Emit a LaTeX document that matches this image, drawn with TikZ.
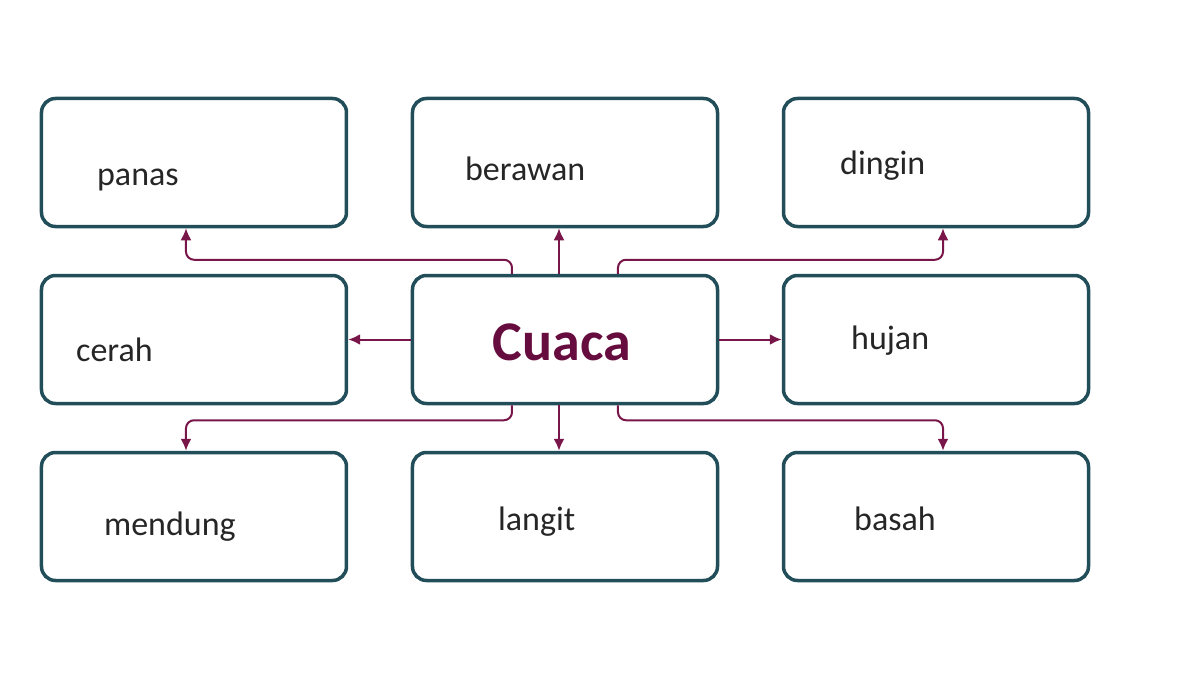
\documentclass[tikz,border=0pt]{standalone}
\usepackage{fontspec}
\setmainfont{Carlito}
\usepackage{tikz}
\usetikzlibrary{positioning, arrows.meta}
\definecolor{boxline}{RGB}{34,78,90}
\definecolor{linkcol}{RGB}{120,22,74}
\definecolor{titlecol}{RGB}{102,12,62}
\tikzstyle{topic} = [rectangle, rounded corners=7pt, minimum width=152.5pt, minimum height=64pt, draw=boxline, line width=1.75pt, fill=white]
\tikzstyle{word} = [anchor=base west, inner sep=0pt, font=\fontsize{17}{20}\selectfont, text=black!85]
\tikzstyle{arrow} = [line width=1pt, draw=linkcol, -{Latex[length=6pt,width=5.5pt]}, linkcol]

\begin{document}
\begin{tikzpicture}[node distance=88.5pt and 185.5pt, on grid]
	\useasboundingbox (-282.5pt,-167.75pt) rectangle (317.5pt,169.75pt);
	\node (cuaca) [topic] {};
	\node (panas) [topic, above left=of cuaca] {};
	\node (berawan) [topic, above=of cuaca] {};
	\node (dingin) [topic, above right=of cuaca] {};
	\node (cerah) [topic, left=of cuaca] {};
	\node (hujan) [topic, right=of cuaca] {};
	\node (mendung) [topic, below left=of cuaca] {};
	\node (langit) [topic, below=of cuaca] {};
	\node (basah) [topic, below right=of cuaca] {};
	
	\node (tcuaca) [anchor=base, inner sep=0pt, font=\fontsize{28}{32}\selectfont\bfseries, text=titlecol] at ([shift={(-1.5pt,-10.25pt)}]cuaca.center) {Cuaca};
	\node (tpanas) [word] at ([shift={(28.5pt,-11.25pt)}]panas.west) {panas};
	\node (tberawan) [word] at ([shift={(27pt,-9.25pt)}]berawan.west) {berawan};
	\node (tdingin) [word] at ([shift={(29pt,-6.25pt)}]dingin.west) {dingin};
	\node (tcerah) [word] at ([shift={(18pt,-10.75pt)}]cerah.west) {cerah};
	\node (thujan) [word] at ([shift={(34.5pt,-4.75pt)}]hujan.west) {hujan};
	\node (tmendung) [word] at ([shift={(32pt,-9.5pt)}]mendung.west) {mendung};
	\node (tlangit) [word] at ([shift={(43.5pt,-7pt)}]langit.west) {langit};
	\node (tbasah) [word] at ([shift={(36pt,-7pt)}]basah.west) {basah};
	
	\draw [arrow, rounded corners=4pt] ([xshift=-26.5pt]cuaca.north) -- ++(0,7pt) -| ([xshift=-4pt]panas.south);
	\draw [arrow] ([xshift=-3pt]cuaca.north) -- ([xshift=-3pt]berawan.south);
	\draw [arrow, rounded corners=4pt] ([xshift=26.5pt]cuaca.north) -- ++(0,7pt) -| ([xshift=3.5pt]dingin.south);
	\draw [arrow] (cuaca.west) -- (cerah.east);
	\draw [arrow] (cuaca.east) -- (hujan.west);
	\draw [arrow, rounded corners=4pt] ([xshift=-26.5pt]cuaca.south) -- ++(0,-7.5pt) -| ([xshift=-4pt]mendung.north);
	\draw [arrow] ([xshift=-3pt]cuaca.south) -- ([xshift=-3pt]langit.north);
	\draw [arrow, rounded corners=4pt] ([xshift=26.5pt]cuaca.south) -- ++(0,-7.5pt) -| ([xshift=3.5pt]basah.north);
	
\end{tikzpicture}
\end{document}
